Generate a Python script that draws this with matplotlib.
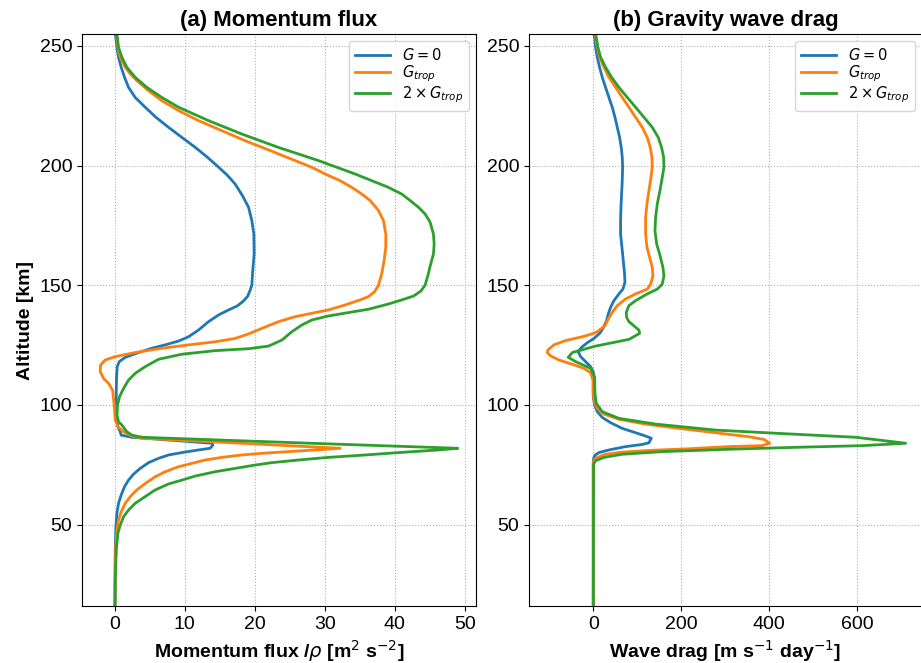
import matplotlib
matplotlib.use("Agg")
import matplotlib.pyplot as plt

plt.rcParams['font.family'] = ['Arial', 'Liberation Sans', 'DejaVu Sans']
plt.rcParams['xtick.labelsize'] = 14
plt.rcParams['ytick.labelsize'] = 14

C_BLUE = "#1f77b4"
C_ORANGE = "#ff7f0e"
C_GREEN = "#2ca02c"

LABELS = [r'$G=0$', r'$G_{trop}$', r'$2\times G_{trop}$']

# ---- (a) momentum flux / rho [m2 s-2], altitude [km] ----
mf_alt_g0 = [260, 255, 252.2, 249.4, 245.3, 241.1, 236.9, 232.7, 228.5, 224.4, 220.2, 216.0,
             211.8, 207.6, 203.7, 200.0, 196.2, 192.3, 187.4, 182.6, 177.0, 171.4, 163.1,
             155.0, 150.1, 148.0, 145.3, 143.2, 141.3, 139.7, 137.6, 134.8, 131.3, 128.5,
             126.7, 125.1, 123.7, 121.9, 119.9, 118.1, 116.0, 111.8, 104.9, 100.0, 95.1,
             90.9, 88.8, 87.4, 86.5, 84.0, 83.3, 81.9, 81.2, 80.1, 79.1, 77.7, 75.9, 73.5,
             71.1, 68.6, 65.9, 62.4, 58.9, 54.7, 49.1, 39.4, 10]
mf_g0 = [0, 0.05, 0.19, 0.29, 0.52, 0.9, 1.38, 1.95, 2.9, 4.33, 5.86, 7.67,
         9.57, 11.5, 13.14, 14.57, 16.0, 17.19, 18.24, 19.1, 19.57, 19.86, 19.9,
         19.67, 19.57, 19.33, 18.95, 18.29, 17.43, 16.24, 14.81, 13.38, 11.95, 10.52,
         9.1, 7.19, 5.29, 3.38, 1.48, 0.62, 0.33, 0.24, 0.19, 0.19, 0.24,
         0.43, 0.76, 0.9, 2.4, 13.9, 14.0, 13.62, 11.95, 9.57, 7.67, 6.24, 4.81, 3.62,
         2.67, 1.95, 1.38, 0.9, 0.52, 0.29, 0.14, 0.05, 0]

mf_alt_gt = [260, 255, 252.2, 249.4, 245.3, 241.1, 238.3, 235.5, 231.3, 227.1, 223.0, 218.8,
             214.6, 210.4, 206.3, 202.1, 199.3, 196.5, 193.7, 190.9, 188.1, 185.4, 181.2,
             177.0, 171.4, 165.9, 160.6, 155.0, 150.1, 147.3, 145.3, 143.9, 141.8, 139.7,
             138.6, 136.9, 134.8, 132.0, 129.7, 127.8, 126.4, 125.1, 123.7, 121.9, 120.2,
             118.8, 116.7, 113.9, 111.1, 109.0, 106.2, 100.0, 93.7, 90.9, 88.8, 87.0, 86.1,
             84.0, 81.9, 81.2, 80.5, 79.8, 79.1, 78.1, 77.0, 75.6, 74.2, 72.1, 70.0, 67.2,
             64.5, 61.7, 58.9, 55.4, 51.9, 47.7, 42.2, 32.4, 10]
mf_gt = [0.1, 0.19, 0.33, 0.43, 0.76, 1.48, 2.19, 3.14, 4.81, 6.71, 9.1, 11.95,
         15.29, 18.62, 22.19, 25.76, 28.14, 30.05, 32.19, 33.86, 35.29, 36.48, 37.67,
         38.38, 38.71, 38.71, 38.48, 38.14, 37.67, 37.1, 36.24, 35.05, 32.9, 30.52,
         28.62, 25.76, 23.38, 21.0, 19.1, 17.19, 14.33, 10.52, 6.71, 2.9, 0.05,
         -1.38, -2.05, -2.1, -1.62, -0.9, -0.33, -0.1, 0.05, 0.43, 1.24, 2.43, 3.9,
         18.0, 32.19, 28.62, 24.81, 21.0, 18.14, 15.29, 12.9, 11.0, 9.1, 7.19, 5.76, 4.33,
         3.14, 2.19, 1.48, 0.9, 0.52, 0.29, 0.14, 0.05, 0]

mf_alt_2gt = [260, 255, 249.4, 245.3, 241.1, 236.9, 232.7, 228.5, 224.4, 218.8, 213.2, 207.6,
              202.1, 196.5, 190.9, 188.1, 185.4, 182.6, 179.8, 176.3, 171.4, 167.2, 163.1,
              157.5, 155.0, 150.1, 147.7, 145.5, 143.9, 142.2, 140.0, 138.6, 137.2, 135.5,
              133.4, 130.6, 127.1, 124.6, 123.5, 122.7, 121.2, 119.1, 116.0, 113.2, 110.4,
              106.9, 103.5, 100.0, 95.8, 93.0, 91.6, 88.8, 87.4, 86.5, 84.0, 81.9, 81.2,
              80.1, 79.1, 78.1, 77.0, 75.9, 74.9, 73.5, 72.1, 70.3, 68.6, 67.0, 64.5, 61.7,
              58.9, 56.1, 53.3, 49.8, 46.4, 40.8, 35.2, 26.9, 10]
mf_2gt = [0.2, 0.29, 0.52, 1.0, 1.71, 2.9, 4.57, 6.71, 9.1, 13.38, 18.14, 23.38,
          29.1, 34.33, 39.1, 41.0, 42.2, 43.38, 44.33, 45.05, 45.52, 45.62, 45.52,
          45.0, 44.81, 44.33, 43.76, 42.67, 41.0, 39.1, 36.24, 33.38, 30.52, 28.14,
          26.71, 25.29, 23.86, 21.95, 19.1, 14.33, 9.57, 6.24, 4.33, 2.9, 1.95,
          1.24, 0.67, 0.38, 0.29, 0.52, 1.0, 1.71, 2.43, 3.86, 28.0, 49.0, 46.24,
          40.52, 35.76, 30.52, 26.24, 22.43, 20.05, 17.19, 14.33, 11.48, 9.57, 7.67, 5.76, 4.33,
          2.9, 1.95, 1.24, 0.76, 0.43, 0.24, 0.14, 0.05, 0]

# ---- (b) wave drag [m s-1 day-1], altitude [km] ----
wd_alt_g0 = [260, 255, 252.2, 249.4, 245.3, 241.1, 236.9, 232.7, 228.5, 224.4, 220.2, 216.0,
             211.8, 207.6, 203.5, 199.3, 193.7, 188.1, 182.6, 177.0, 171.4, 165.9, 160.3,
             154.7, 151.2, 148.4, 146.4, 143.6, 140.8, 138.0, 135.2, 132.0, 129.9, 127.8,
             126.0, 124.1, 122.3, 120.2, 118.1, 116.0, 113.9, 111.1, 107.6, 103.5, 100.0,
             97.2, 94.8, 92.6, 90.2, 88.4, 87.0, 86.1, 84.2, 83.5, 82.6, 81.2, 80.1, 79.0,
             77.7, 75.6, 10]
wd_g0 = [0, 1.5, 3.8, 5.3, 9.1, 14.4, 20.5, 28.0, 35.6, 43.2, 49.3, 54.6,
         59.9, 63.6, 65.9, 66.7, 65.9, 64.4, 62.9, 62.1, 62.1, 65.2, 68.2,
         71.2, 72.0, 67.4, 58.3, 47.0, 39.4, 34.1, 30.3, 22.0, 14.4, 1.5,
         -13.6, -26.5, -34.1, -28.8, -17.4, -6.1, 0, 1.5, 0, 0, 3.0,
         9.1, 20.5, 39.4, 65.9, 96.2, 119.0, 131.8, 126.5, 111.4, 73.5, 35.6, 12.9, 3.8,
         0.8, 0, 0]

wd_alt_gt = [260, 255, 252.2, 249.4, 245.3, 241.1, 236.9, 232.7, 228.5, 224.4, 220.2, 216.0,
             211.8, 207.6, 203.5, 199.3, 195.1, 189.5, 184.0, 178.4, 171.4, 165.9, 161.7,
             157.5, 154.0, 150.5, 148.4, 146.4, 144.3, 141.5, 138.7, 135.9, 133.1, 130.6,
             129.7, 128.5, 126.9, 125.1, 123.0, 121.9, 120.5, 118.8, 117.0, 115.3, 113.5,
             110.4, 104.9, 101.4, 98.6, 96.2, 94.0, 92.0, 90.2, 88.4, 86.7, 85.6, 84.0,
             83.0, 82.6, 81.7, 81.0, 80.3, 79.4, 78.1, 77.0, 75.6, 10]
wd_gt = [2.0, 3.8, 6.8, 9.1, 14.4, 24.3, 35.6, 50.8, 65.9, 81.1, 96.2, 111.4,
         122.7, 129.6, 133.3, 134.1, 131.1, 126.5, 122.0, 119.0, 119.0, 122.0, 128.0,
         134.1, 135.6, 130.3, 122.7, 96.2, 73.5, 54.6, 43.2, 34.1, 26.5, 9.1,
         -2.3, -25.0, -62.9, -89.4, -103.0, -104.5, -97.0, -78.0, -47.7, -21.2, -6.1,
         -0.8, 0, 2.3, 9.1, 24.3, 58.3, 119.0, 194.7, 278.0, 353.8, 387.9, 400.8,
         384.1, 308.4, 217.4, 126.5, 65.9, 28.0, 9.1, 1.5, 0, 0]

wd_alt_2gt = [260, 255, 252.2, 249.4, 245.3, 241.1, 236.9, 232.7, 228.5, 224.4, 220.2, 216.0,
              211.8, 207.6, 203.5, 199.3, 195.1, 189.5, 184.0, 178.4, 172.8, 167.3, 163.1,
              157.5, 154.0, 150.5, 148.4, 146.4, 143.6, 141.5, 138.7, 136.6, 134.8, 131.3,
              129.9, 127.4, 124.6, 121.9, 119.9, 118.1, 115.3, 111.8, 104.9, 100.7, 97.2,
              94.4, 92.0, 89.5, 87.9, 86.5, 84.0, 83.0, 82.3, 81.5, 80.5, 79.4, 78.1, 76.7,
              75.3, 10]
wd_2gt = [3.0, 5.3, 8.3, 10.6, 16.7, 28.0, 41.7, 58.3, 77.3, 96.2, 115.2, 134.1,
          147.7, 155.3, 159.9, 160.6, 156.8, 151.5, 145.5, 141.7, 140.2, 144.0, 150.8,
          158.3, 160.6, 156.8, 145.5, 122.7, 96.2, 81.1, 75.0, 75.8, 81.1, 103.8,
          105.3, 81.1, 5.3, -47.7, -56.8, -40.1, -6.1, 3.0, 3.8, 6.8, 20.5,
          58.3, 141.7, 278.0, 444.7, 596.2, 709.9, 611.4, 459.9, 308.4, 156.8, 65.9, 24.3, 5.3,
          0.8, 0]

fig = plt.figure(figsize=(9.21, 6.63), dpi=100)
ax1 = fig.add_axes([82 / 921, 57 / 663, 394 / 921, 572 / 663])
ax2 = fig.add_axes([529 / 921, 57 / 663, 393 / 921, 572 / 663])

colors = [C_BLUE, C_ORANGE, C_GREEN]

for (alt, val), c, lab in zip([(mf_alt_g0, mf_g0), (mf_alt_gt, mf_gt), (mf_alt_2gt, mf_2gt)],
                              colors, LABELS):
    ax1.plot(val, alt, color=c, lw=2, label=lab)

for (alt, val), c, lab in zip([(wd_alt_g0, wd_g0), (wd_alt_gt, wd_gt), (wd_alt_2gt, wd_2gt)],
                              colors, LABELS):
    ax2.plot(val, alt, color=c, lw=2, label=lab)

ax1.set_xlim(-4.7, 51.6)
ax2.set_xlim(-146, 747)
for ax in (ax1, ax2):
    ax.set_ylim(16, 255)
    ax.set_yticks([50, 100, 150, 200, 250])
    ax.grid(True, linestyle=':', color='#b0b0b0', lw=0.8)
    ax.legend(loc='upper right', fontsize=10.5, handlelength=2.4, labelspacing=0.02)

ax1.set_xticks([0, 10, 20, 30, 40, 50])
ax2.set_xticks([0, 200, 400, 600])

ax1.set_title('(a) Momentum flux', fontsize=16, fontweight='bold')
ax2.set_title('(b) Gravity wave drag', fontsize=16, fontweight='bold')
ax1.set_xlabel(r'Momentum flux /$\rho$ [m$^2$ s$^{-2}$]', fontsize=14, fontweight='bold')
ax2.set_xlabel(r'Wave drag [m s$^{-1}$ day$^{-1}$]', fontsize=14, fontweight='bold')
ax1.set_ylabel('Altitude [km]', fontsize=14, fontweight='bold')

fig.savefig('out.png', dpi=100)
plt.close(fig)
